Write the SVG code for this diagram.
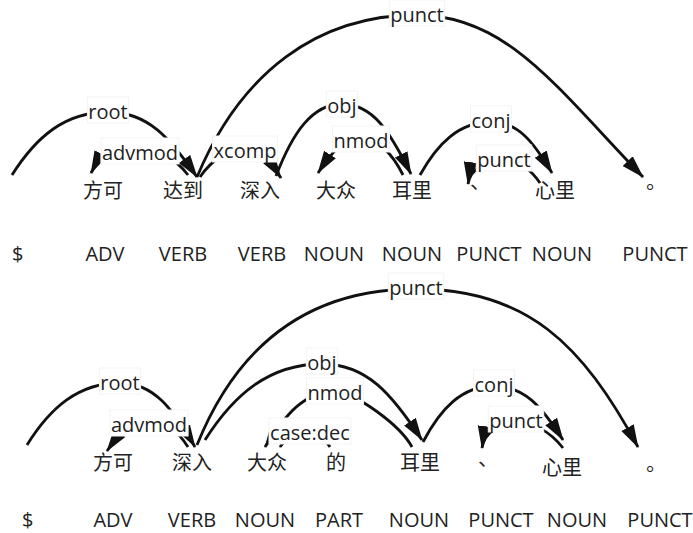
<svg xmlns="http://www.w3.org/2000/svg" width="693" height="533" viewBox="0 0 693 533">
  <defs>
    <style>
      .w { font-family: "Noto Sans CJK SC", sans-serif; font-size: 20px; fill: #222; text-anchor: middle; }
      .wp { font-family: "Noto Sans CJK TC", sans-serif; font-size: 20px; fill: #222; text-anchor: middle; }
      .pos { font-family: "Open Sans", "Liberation Sans", sans-serif; font-size: 20px; fill: #222; text-anchor: middle; }
      .pos0 { font-family: "Open Sans", "Liberation Sans", sans-serif; font-size: 20px; fill: #222; }
      .arc { fill: none; stroke: #111; stroke-width: 2.8; marker-end: url(#ah); }
      .box { fill: #fff; stroke: #f3f3f3; stroke-width: 1; }
      .lbl { font-family: "Open Sans", "Liberation Sans", sans-serif; font-size: 20px; fill: #222; text-anchor: middle; }
    </style>
    <marker id="ah" markerUnits="userSpaceOnUse" markerWidth="24" markerHeight="16" viewBox="0 -8 24 16" refX="22" refY="0" orient="auto">
      <path d="M0,-7 L23,0 L0,7 Z" fill="#111"/>
    </marker>
  </defs>
  <rect width="693" height="533" fill="#fff"/>

  <!-- dependency arcs, head to dependent -->
  <g id="connectors">
    <g id="arcs-1">
      <path class="arc" d="M12,175 C36,137 65,112 108,112 C148,112 170,138 197,177"/>
      <path class="arc" d="M188,175 C175.5,158.8 160.5,148 138,148 C117,148 101,153 91,173"/>
      <path class="arc" d="M197,177 C241,72 318,15 417,15 C507,15 557,88 643,177"/>
      <path class="arc" d="M200,177 C211,161 225,150 245,150 C261,150 270,161 281,178"/>
      <path class="arc" d="M276,176 C292.5,133 312,104 342,104 C373,104 390,132 411,174"/>
      <path class="arc" d="M403,175 C392.5,154 380,140 361,140 C341.6,140 331,153 318,173"/>
      <path class="arc" d="M420,175 C437.8,143.2 459,122 491,122 C518.5,122 533.7,142.4 552,173"/>
      <path class="arc" d="M540,183 C531,169.8 520,161 504,161 C488,161 470,168 468,184"/>
    </g>
    <g id="arcs-2">
      <path class="arc" d="M27,445 C50,408 78,383 120,383 C153.75,383 172.5,408.6 195,447"/>
      <path class="arc" d="M188,447 C178,431.4 166.5,421 149,421 C130,421 119.6,433 107,451"/>
      <path class="arc" d="M197,445 C241,336 317.4,289 416,289 C527,289 582.5,344.3 638,447"/>
      <path class="arc" d="M205,440 C234,394.4 269.3,364 322,364 C367,364 392,394.4 422,440"/>
      <path class="arc" d="M412,447 C400,425 355,392 335,392 C303.5,392 286,414 265,447"/>
      <path class="arc" d="M330,447 C323.75,436.8 316.25,430 305,430 C293.75,430 287.5,436.8 280,447"/>
      <path class="arc" d="M423,442 C440.75,408.4 462,386 494,386 C525,386 542.3,407.6 563,440"/>
      <path class="arc" d="M563,448 C551,433 537,423 516,423 C500.7,423 484,432 482,448"/>
    </g>
    <g id="labels-1">
      <rect class="box" x="389.3" y="0" width="55.4" height="26"/><text class="lbl" x="417" y="22">punct</text>
      <rect class="box" x="87.4" y="97" width="41.2" height="26"/><text class="lbl" x="108" y="119">root</text>
      <rect class="box" x="100.9" y="138" width="78.2" height="26"/><text class="lbl" x="140" y="160">advmod</text>
      <rect class="box" x="212.5" y="136" width="64.9" height="26"/><text class="lbl" x="245" y="158">xcomp</text>
      <rect class="box" x="326.3" y="91" width="31.4" height="26"/><text class="lbl" x="342" y="113">obj</text>
      <rect class="box" x="332.5" y="126" width="57" height="26"/><text class="lbl" x="361" y="148">nmod</text>
      <rect class="box" x="470.5" y="106" width="41" height="26"/><text class="lbl" x="491" y="128">conj</text>
      <rect class="box" x="476.3" y="145" width="55.4" height="26"/><text class="lbl" x="504" y="167">punct</text>
    </g>
    <g id="labels-2">
      <rect class="box" x="388.3" y="273" width="55.4" height="26"/><text class="lbl" x="416" y="295">punct</text>
      <rect class="box" x="99.4" y="368" width="41.2" height="26"/><text class="lbl" x="120" y="390">root</text>
      <rect class="box" x="109.9" y="410" width="78.2" height="26"/><text class="lbl" x="149" y="432">advmod</text>
      <rect class="box" x="306.3" y="348" width="31.4" height="26"/><text class="lbl" x="322" y="370">obj</text>
      <rect class="box" x="306.5" y="378" width="57" height="26"/><text class="lbl" x="335" y="400">nmod</text>
      <rect class="box" x="269" y="418" width="82" height="26"/><text class="lbl" x="310" y="440">case:dec</text>
      <rect class="box" x="473.5" y="370" width="41" height="26"/><text class="lbl" x="494" y="392">conj</text>
      <rect class="box" x="488.3" y="406" width="55.4" height="26"/><text class="lbl" x="516" y="428">punct</text>
    </g>
  </g>

  <!-- first sentence tokens -->
  <g id="s1-t0"><text class="pos0" x="12" y="261">$</text></g>
  <g id="s1-t1"><text class="w" x="103" y="198">方可</text><text class="pos" x="105" y="261">ADV</text></g>
  <g id="s1-t2"><text class="w" x="183" y="198">达到</text><text class="pos" x="183" y="261">VERB</text></g>
  <g id="s1-t3"><text class="w" x="260" y="198">深入</text><text class="pos" x="262" y="261">VERB</text></g>
  <g id="s1-t4"><text class="w" x="336" y="198">大众</text><text class="pos" x="334" y="261">NOUN</text></g>
  <g id="s1-t5"><text class="w" x="412" y="198">耳里</text><text class="pos" x="412" y="261">NOUN</text></g>
  <g id="s1-t6"><text class="wp" x="474" y="195">、</text><text class="pos" x="489" y="261">PUNCT</text></g>
  <g id="s1-t7"><text class="w" x="555" y="198">心里</text><text class="pos" x="562" y="261">NOUN</text></g>
  <g id="s1-t8"><text class="wp" x="650" y="195">。</text><text class="pos" x="655" y="261">PUNCT</text></g>

  <!-- second sentence tokens -->
  <g id="s2-t0"><text class="pos0" x="22" y="527">$</text></g>
  <g id="s2-t1"><text class="w" x="113" y="470">方可</text><text class="pos" x="113" y="527">ADV</text></g>
  <g id="s2-t2"><text class="w" x="192" y="470">深入</text><text class="pos" x="192" y="527">VERB</text></g>
  <g id="s2-t3"><text class="w" x="267" y="470">大众</text><text class="pos" x="265" y="527">NOUN</text></g>
  <g id="s2-t4"><text class="w" x="336" y="470">的</text><text class="pos" x="339" y="527">PART</text></g>
  <g id="s2-t5"><text class="w" x="420" y="470">耳里</text><text class="pos" x="419" y="527">NOUN</text></g>
  <g id="s2-t6"><text class="wp" x="482" y="472">、</text><text class="pos" x="501" y="527">PUNCT</text></g>
  <g id="s2-t7"><text class="w" x="562" y="475">心里</text><text class="pos" x="577" y="527">NOUN</text></g>
  <g id="s2-t8"><text class="wp" x="650" y="477">。</text><text class="pos" x="660" y="527">PUNCT</text></g>
</svg>
